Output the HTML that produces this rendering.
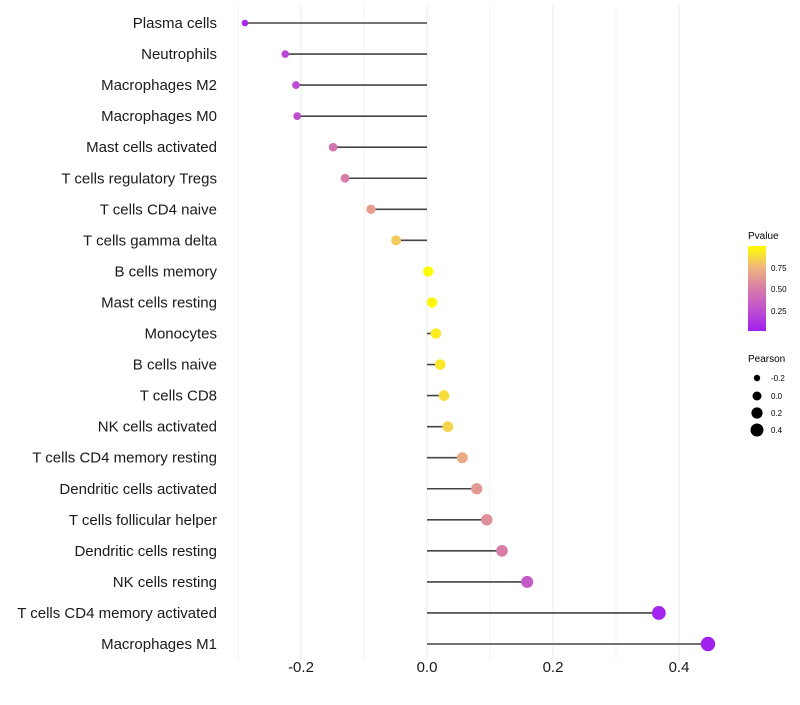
<!DOCTYPE html>
<html><head><meta charset="utf-8"><style>
body{margin:0;background:#fff;font-family:"Liberation Sans",sans-serif;}
</style></head><body>
<svg id="chart" width="800" height="700" xmlns="http://www.w3.org/2000/svg" font-family="Liberation Sans, sans-serif">
<defs><linearGradient id="pg" x1="0" y1="1" x2="0" y2="0">
<stop offset="0" stop-color="#a020f0"/><stop offset="0.25" stop-color="#c050d0"/><stop offset="0.5" stop-color="#d87ca8"/><stop offset="0.75" stop-color="#efb67e"/><stop offset="1" stop-color="#ffff00"/></linearGradient></defs>
<g id="grid"></g><g id="marks"></g><g id="labels"></g>
<g>
<text x="748" y="239" font-size="10">Pvalue</text>
<rect x="748" y="246" width="18" height="85" fill="url(#pg)"/>
<text x="771" y="271" font-size="8">0.75</text>
<text x="771" y="292" font-size="8">0.50</text>
<text x="771" y="314" font-size="8">0.25</text>
</g>
<g>
<text x="748" y="362" font-size="10">Pearson</text>
<circle cx="757" cy="378" r="3.2"/><text x="771" y="381" font-size="8">-0.2</text>
<circle cx="757" cy="396" r="4.5"/><text x="771" y="399" font-size="8">0.0</text>
<circle cx="757" cy="413" r="5.6"/><text x="771" y="416" font-size="8">0.2</text>
<circle cx="757" cy="430" r="6.5"/><text x="771" y="433" font-size="8">0.4</text>
</g>
</svg>
<script>
const categories=["Plasma cells","Neutrophils","Macrophages M2","Macrophages M0","Mast cells activated","T cells regulatory  Tregs ","T cells CD4 naive","T cells gamma delta","B cells memory","Mast cells resting","Monocytes","B cells naive","T cells CD8","NK cells activated","T cells CD4 memory resting","Dendritic cells activated","T cells follicular helper","Dendritic cells resting","NK cells resting","T cells CD4 memory activated","Macrophages M1"];
const pearson=[-0.289,-0.225,-0.208,-0.206,-0.149,-0.130,-0.089,-0.049,0.002,0.008,0.014,0.021,0.027,0.033,0.056,0.079,0.095,0.119,0.159,0.368,0.446];
const pvalue=[0.05,0.2,0.23,0.24,0.45,0.5,0.65,0.82,0.99,0.97,0.94,0.92,0.88,0.85,0.7,0.62,0.58,0.5,0.3,0.02,0.005];
const xTicks=[-0.2,0,0.2,0.4];
const xTickLabels=["-0.2","0.0","0.2","0.4"];
const minorTicks=[-0.3,-0.1,0.1,0.3];
const NS="http://www.w3.org/2000/svg";
const X=v=>427+v*630;
const Y=i=>23+i*31.05;
const R=v=>Math.sqrt(Math.max(3,27+56*v));
const stops=[[0,[160,32,240]],[0.25,[192,80,208]],[0.5,[216,124,168]],[0.75,[239,182,126]],[1,[255,255,0]]];
function col(p){for(let k=1;k<stops.length;k++){if(p<=stops[k][0]){const a=stops[k-1],b=stops[k],t=(p-a[0])/(b[0]-a[0]);return "rgb("+a[1].map((c,j)=>Math.round(c+(b[1][j]-c)*t)).join(",")+")";}}return "rgb(255,255,0)";}
function mk(t,at,parent){const e=document.createElementNS(NS,t);for(const k in at)e.setAttribute(k,at[k]);document.getElementById(parent).appendChild(e);return e;}
minorTicks.forEach(v=>{const l=mk("line",{x1:X(v),x2:X(v),y1:5,y2:660,stroke:"#f2f2f2","stroke-width":1},"grid");

});
xTicks.forEach((v,i)=>{const l=mk("line",{x1:X(v),x2:X(v),y1:5,y2:660,stroke:"#ebebeb","stroke-width":1},"grid");


const t=mk("text",{x:X(v),y:672,"font-size":15,"text-anchor":"middle",fill:"#1a1a1a"},"labels");t.textContent=xTickLabels[i];

});
categories.forEach((c,i)=>{const y=Y(i);
const t=mk("text",{x:217,y:y+5,"font-size":15,"text-anchor":"end",fill:"#1a1a1a","xml:space":"preserve"},"labels");t.textContent=c;


const l=mk("line",{x1:X(0),x2:X(pearson[i]),y1:y,y2:y,stroke:"#444","stroke-width":1.6},"marks");


const d=mk("circle",{cx:X(pearson[i]),cy:y,r:R(pearson[i]),fill:col(pvalue[i])},"marks");

});
</script>
</body></html>
